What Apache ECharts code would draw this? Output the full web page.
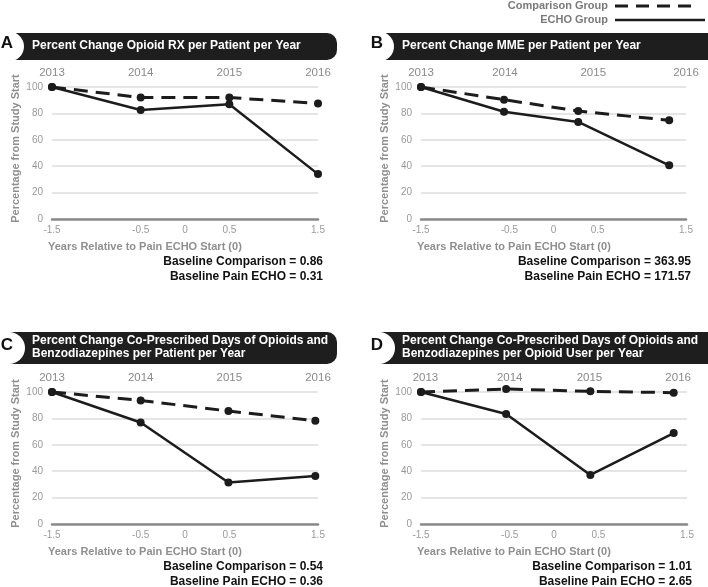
<!DOCTYPE html>
<html>
<head>
<meta charset="utf-8">
<script src="https://cdn.jsdelivr.net/npm/echarts@6/dist/echarts.min.js"></script>
<style>html,body{margin:0;padding:0;background:#fff}#c{width:708px;height:587px}</style>
</head>
<body>
<div id="c"></div>
<script>
// ---- data ----
const topYears = ['2013', '2014', '2015', '2016'];
const bottomTicks = [-1.5, -0.5, 0, 0.5, 1.5];
const panelLetters = ['A', 'B', 'C', 'D'];
const panelTitles = [
  'Percent Change Opioid RX per Patient per Year',
  'Percent Change MME per Patient per Year',
  'Percent Change Co-Prescribed Days of Opioids and\nBenzodiazepines per Patient per Year',
  'Percent Change Co-Prescribed Days of Opioids and\nBenzodiazepines per Opioid User per Year'
];
const seriesNames = ['Comparison Group', 'ECHO Group'];

const xA = [-1.5, -0.5, 0.5, 1.5];
const compA = [100, 92, 92, 87.5];
const echoA = [100, 82.6, 87, 34];

const xB = [-1.5, -0.56, 0.28, 1.31];
const compB = [100, 90.4, 81.8, 74.8];
const echoB = [100, 81.3, 73.5, 40.7];

const xC = [-1.5, -0.5, 0.49, 1.47];
const compC = [100, 93.6, 85.6, 78.2];
const echoC = [100, 76.9, 31.4, 36.4];

const xD = [-1.5, -0.54, 0.41, 1.35];
const compD = [100, 102.3, 100.5, 99.5];
const echoD = [100, 83.3, 37.2, 68.9];

const topPosA = [-1.5, -0.5, 0.5, 1.5];
const topPosB = [-1.5, -0.55, 0.45, 1.5];
const topPosC = [-1.5, -0.5, 0.5, 1.5];
const topPosD = [-1.45, -0.5, 0.4, 1.4];

const baseComp = ['0.86', '363.95', '0.54', '1.01'];
const baseEcho = ['0.31', '171.57', '0.36', '2.65'];

// ---- layout ----
const panels = [
  {x: xA, comp: compA, echo: echoA, top: topPosA},
  {x: xB, comp: compB, echo: echoB, top: topPosB},
  {x: xC, comp: compC, echo: echoC, top: topPosC},
  {x: xD, comp: compD, echo: echoD, top: topPosD}
];
const gridPos = [
  {left: 52, top: 87, width: 266, height: 132},
  {left: 421, top: 87, width: 265, height: 132},
  {left: 52, top: 392, width: 266, height: 132},
  {left: 421, top: 392, width: 266, height: 132}
];
const ink = '#1c1c1c';
const grids = [], xAxes = [], yAxes = [], series = [], graphics = [];

panels.forEach((p, i) => {
  const g = gridPos[i];
  grids.push(Object.assign({containLabel: false}, g));
  xAxes.push({
    type: 'value', gridIndex: i, position: 'bottom', min: -1.5, max: 1.5, interval: 0.5,
    axisLine: {show: true, onZero: false, lineStyle: {color: '#8a8a8a', width: 2.5}},
    axisTick: {show: false}, splitLine: {show: false},
    axisLabel: {color: '#9a9a9a', fontSize: 10, margin: 6, fontFamily: 'Liberation Sans',
      formatter: v => bottomTicks.some(t => Math.abs(t - v) < 1e-6) ? String(v) : ''}
  });
  xAxes.push({
    type: 'value', gridIndex: i, position: 'top', min: -1.5, max: 1.5, interval: 0.05,
    axisLine: {show: false}, axisTick: {show: false}, splitLine: {show: false},
    axisLabel: {color: '#8a8a8a', fontSize: 11.5, margin: 8, fontFamily: 'Liberation Sans',
      formatter: v => {
        for (let k = 0; k < p.top.length; k++) if (Math.abs(p.top[k] - v) < 1e-3) return topYears[k];
        return '';
      }}
  });
  yAxes.push({
    type: 'value', gridIndex: i, min: 0, max: 100, interval: 20,
    axisLine: {show: false}, axisTick: {show: false},
    splitLine: {lineStyle: {color: '#dcdcdc', width: 1.5}},
    axisLabel: {color: '#9a9a9a', fontSize: 10, margin: 9, fontFamily: 'Liberation Sans'},
    name: 'Percentage from Study Start', nameLocation: 'middle', nameGap: 31,
    nameTextStyle: {color: '#8f8f8f', fontSize: 11, fontWeight: 'bold', fontFamily: 'Liberation Sans', padding: [0, 0, 0, 9]}
  });
  series.push({
    name: seriesNames[0], type: 'line', xAxisIndex: i * 2, yAxisIndex: i,
    data: p.x.map((x, k) => [x, p.comp[k]]), clip: false,
    symbol: 'circle', symbolSize: 8, itemStyle: {color: ink},
    lineStyle: {color: ink, width: 3, type: [14, 8]}, z: 3
  });
  series.push({
    name: seriesNames[1], type: 'line', xAxisIndex: i * 2, yAxisIndex: i,
    data: p.x.map((x, k) => [x, p.echo[k]]), clip: false,
    symbol: 'circle', symbolSize: 8, itemStyle: {color: ink},
    lineStyle: {color: ink, width: 2.5}, z: 4
  });

  // header bar
  const ox = i % 2 === 0 ? 0 : 370;
  const two = i >= 2;
  const by = two ? 332 : 33;
  const bh = two ? 32 : 27;
  const bw = i % 2 === 0 ? 327 : 338;
  graphics.push({type: 'rect', shape: {x: ox + 10, y: by, width: bw, height: bh, r: [0, 10, 10, 0]},
    style: {fill: '#1e1e1e'}, z: 10});
  graphics.push({type: 'circle', shape: {cx: ox + 9, cy: by + bh / 2, r: two ? 16 : 15},
    style: {fill: '#ffffff'}, z: 11});
  graphics.push({type: 'text', x: ox + 7, y: by + bh / 2 - 3,
    style: {text: panelLetters[i], fill: '#111', font: 'bold 17px "Liberation Sans"', textAlign: 'center', textVerticalAlign: 'middle'}, z: 12});
  graphics.push({type: 'text', x: ox + 32, y: by + bh / 2 - 1,
    style: {text: panelTitles[i], fill: '#ffffff', font: 'bold 12px "Liberation Sans"', lineHeight: 12.5,
      textAlign: 'left', textVerticalAlign: 'middle'}, z: 12});

  // x axis name + baselines
  const bottom = g.top + g.height;
  graphics.push({type: 'text', x: g.left - 4, y: bottom + 28,
    style: {text: 'Years Relative to Pain ECHO Start (0)', fill: '#8f8f8f', font: 'bold 11px "Liberation Sans"',
      textAlign: 'left', textVerticalAlign: 'middle'}});
  const rx = g.left + g.width + 5;
  graphics.push({type: 'text', x: rx, y: bottom + 43,
    style: {text: 'Baseline Comparison = ' + baseComp[i], fill: '#111', font: 'bold 12px "Liberation Sans"',
      textAlign: 'right', textVerticalAlign: 'middle'}});
  graphics.push({type: 'text', x: rx, y: bottom + 58,
    style: {text: 'Baseline Pain ECHO = ' + baseEcho[i], fill: '#111', font: 'bold 12px "Liberation Sans"',
      textAlign: 'right', textVerticalAlign: 'middle'}});
});

// legend (top right)
graphics.push({type: 'text', x: 608, y: 6,
  style: {text: seriesNames[0], fill: '#7a7a7a', font: 'bold 11px "Liberation Sans"', textAlign: 'right', textVerticalAlign: 'middle'}});
graphics.push({type: 'line', shape: {x1: 615, y1: 6, x2: 697, y2: 6},
  style: {stroke: ink, lineWidth: 3, lineDash: [13, 8]}});
graphics.push({type: 'text', x: 608, y: 20,
  style: {text: 'ECHO Group', fill: '#7a7a7a', font: 'bold 11px "Liberation Sans"', textAlign: 'right', textVerticalAlign: 'middle'}});
graphics.push({type: 'line', shape: {x1: 615, y1: 20, x2: 705, y2: 20},
  style: {stroke: ink, lineWidth: 2.5}});

const chart = echarts.init(document.getElementById('c'));
chart.setOption({
  animation: false,
  backgroundColor: '#ffffff',
  grid: grids, xAxis: xAxes, yAxis: yAxes, series: series,
  graphic: graphics
});
</script>
</body>
</html>
